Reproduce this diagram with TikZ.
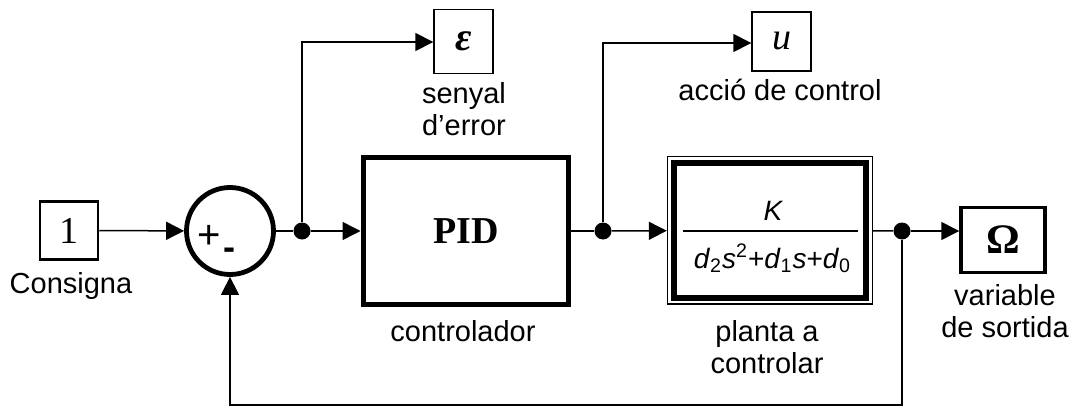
\documentclass[tikz,border=0pt]{standalone}
\usepackage{fontspec}
\setmainfont{Liberation Sans}
\newfontfamily\timesf{Liberation Serif}
\usetikzlibrary{arrows.meta}
\tikzset{
  thinln/.style={line width=0.75pt},
  conn/.style={line width=0.75pt,-{Triangle[length=9pt,width=9pt]}},
  dot/.style={circle,fill=black,inner sep=0pt,minimum size=8.5pt},
  lbl/.style={font=\fontsize{14.5}{16}\selectfont,inner sep=0pt},
  sbox/.style={draw,line width=0.7pt,inner sep=0pt,minimum width=29.5pt,minimum height=29.5pt},
}
\begin{document}
\begin{tikzpicture}[x=0.5pt,y=-0.5pt]
\useasboundingbox (0,0) rectangle (1075,407);
% blocks
\node[draw,line width=1.25pt,inner sep=0pt,minimum width=29pt,minimum height=29pt,
      font=\timesf\fontsize{19}{19}\selectfont] (in) at (69,230.5) {1};
\node[draw,circle,line width=2.4pt,inner sep=0pt,minimum size=43.5pt] (sum) at (230,231) {};
\node[inner sep=0pt,font=\fontsize{20}{20}\selectfont] (plus) at (209,236.5) {+};
\node[inner sep=0pt,font=\bfseries\fontsize{18}{18}\selectfont] (minus) at (229,254) {-};
\node[draw,line width=2.5pt,inner sep=0pt,minimum width=102.75pt,minimum height=73.5pt,
      font=\timesf\bfseries\fontsize{19}{19}\selectfont] (pid) at (465.75,231) {PID};
\node[draw,line width=0.7pt,inner sep=0pt,minimum width=102.5pt,minimum height=73.75pt] (plant) at (770,230.25) {};
\draw[line width=3pt] ([shift={(7,7)}]plant.north west) rectangle ([shift={(-7,-7)}]plant.south east);
\node[anchor=base,inner sep=0pt,font=\fontsize{14}{14}\selectfont\itshape] (K) at (773,220) {K};
\draw[line width=0.75pt] (683,231) -- (858,231);
\node[anchor=base,inner sep=0pt,font=\fontsize{14}{14}\selectfont] (den) at (772.5,268)
  {\textit{d}\textsubscript{2}\textit{s}\textsuperscript{2}+\textit{d}\textsubscript{1}\textit{s}+\textit{d}\textsubscript{0}};
\node[sbox,minimum height=32pt,font=\timesf\bfseries\itshape\fontsize{20}{20}\selectfont] (eps) at (463.5,41.5) {ε};
\node[sbox,font=\timesf\itshape\fontsize{19}{19}\selectfont] (u) at (781.5,41.5) {u};
\node[draw,line width=1.75pt,inner sep=0pt,minimum width=42pt,minimum height=32.5pt,
      font=\timesf\bfseries\fontsize{21}{21}\selectfont] (om) at (1003,240) {Ω};
% dots
\node[dot] (d1) at (302,231) {};
\node[dot] (d2) at (603,231) {};
\node[dot] (d3) at (902,231) {};
\coordinate (c1) at (302,42);
\coordinate (c2) at (603,43);
\coordinate (c3) at (902,405);
\coordinate (c4) at (230,405);
% connectors
\draw[conn] (in) -- (sum);
\draw[thinln] (sum) -- (d1);
\draw[conn] (d1) -- (pid);
\draw[conn] (d1) -- (c1) -- (c1 -| eps.west);
\draw[thinln] (pid) -- (d2);
\draw[conn] (d2) -- (plant);
\draw[conn] (d2) -- (c2) -- (c2 -| u.west);
\draw[thinln] (plant) -- (d3);
\draw[conn] (d3) -- (d3 -| om.west);
\draw[conn] (d3) -- (c3) -- (c4) -- (sum);
% labels
\node[lbl,anchor=base] (l1) at (71,293) {Consigna};
\node[lbl,anchor=base] (l2) at (464,103) {senyal};
\node[lbl,anchor=base] (l3) at (464,135) {d’error};
\node[lbl,anchor=base] (l4) at (780,100) {acció de control};
\node[lbl,anchor=base] (l5) at (463,341) {controlador};
\node[lbl,anchor=base] (l6) at (767,341) {planta a};
\node[lbl,anchor=base] (l7) at (767,373) {controlar};
\node[lbl,anchor=base] (l8) at (1005,305) {variable};
\node[lbl,anchor=base] (l9) at (1005,337) {de sortida};
\end{tikzpicture}
\end{document}
